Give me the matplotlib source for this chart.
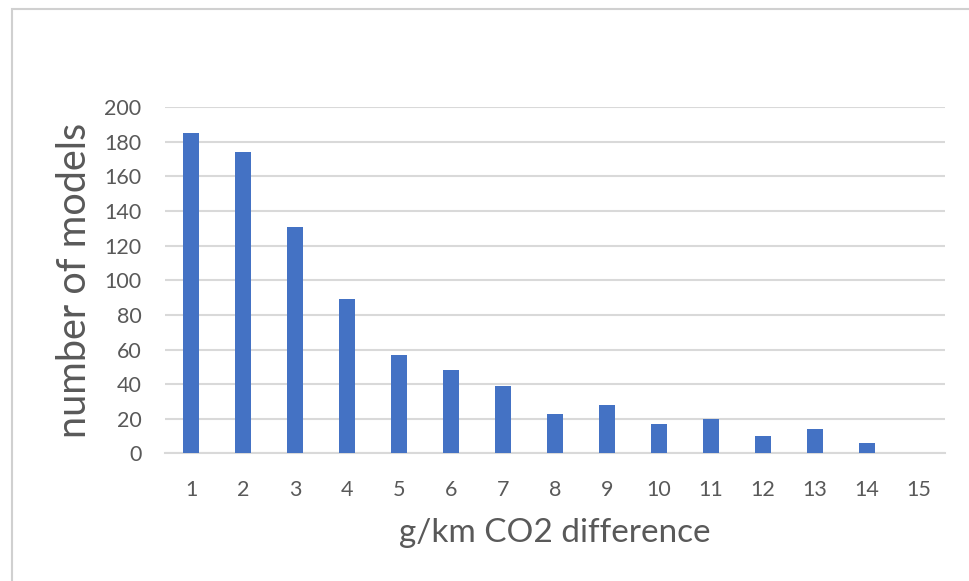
import matplotlib
matplotlib.use("Agg")
import matplotlib.pyplot as plt
from matplotlib.patches import Rectangle

categories = [1, 2, 3, 4, 5, 6, 7, 8, 9, 10, 11, 12, 13, 14, 15]
counts = [185, 174, 131, 89, 57, 48, 39, 23, 28, 17, 20, 10, 14, 6, 0]
yticks = [0, 20, 40, 60, 80, 100, 120, 140, 160, 180, 200]

plt.rcParams['font.family'] = ['Lato', 'DejaVu Sans']
text_color = '#595959'
grid_color = '#d9d9d9'
bar_color = '#4472C4'

W, H = 969, 581
fig = plt.figure(figsize=(W / 100, H / 100), dpi=100)
fig.patch.set_facecolor('white')

# outer chart border (light gray)
fig.patches.append(Rectangle((12 / W, -0.05), 1.1, (H - 9) / H + 0.05,
                             transform=fig.transFigure, fill=False,
                             edgecolor='#d0d0d0', linewidth=1.5, zorder=0))

ax = fig.add_axes([165 / W, (H - 453.3) / H, (945 - 165) / W, (453.3 - 107.3) / H])
ax.bar(categories, counts, width=0.32, color=bar_color, zorder=3)

ax.set_xlim(0.5, 15.5)
ax.set_ylim(0, 200)
ax.set_yticks(yticks)
ax.set_xticks(categories)
ax.set_xticklabels([str(c) for c in categories])

ax.grid(axis='y', color=grid_color, linewidth=1.5, zorder=0)
ax.set_axisbelow(True)
for s in ['top', 'right', 'left']:
    ax.spines[s].set_visible(False)
ax.spines['bottom'].set_color(grid_color)
ax.spines['bottom'].set_linewidth(1.5)

ax.tick_params(axis='both', length=0, labelsize=15.5, colors=text_color)
ax.tick_params(axis='y', pad=17)
ax.tick_params(axis='x', pad=19)

fig.text(554.5 / W, (H - 533) / H, 'g/km CO2 difference', fontsize=24,
         color=text_color, ha='center', va='center')
fig.text(75 / W, (H - 280) / H, 'number of models', fontsize=28.5,
         color=text_color, ha='center', va='center', rotation=90)

fig.savefig('out.png', dpi=100, facecolor='white')
